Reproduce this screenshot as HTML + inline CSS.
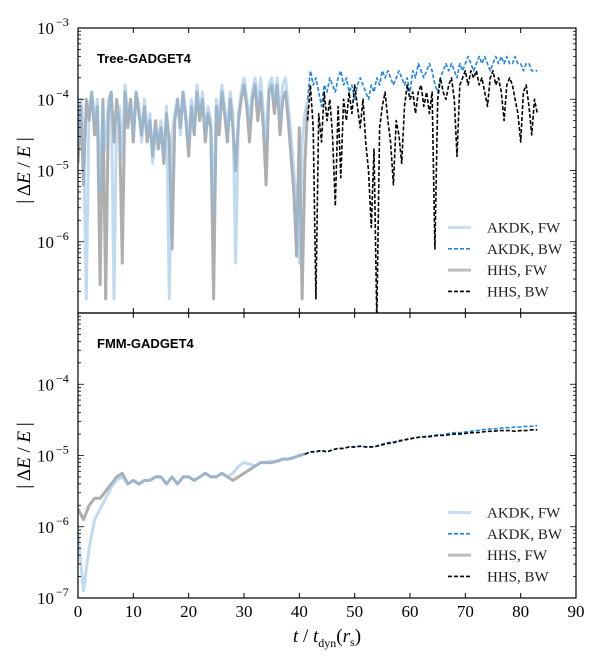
<!DOCTYPE html>
<html><head><meta charset="utf-8"><style>
html,body{margin:0;padding:0;background:#fff;}
svg{display:block;font-family:"Liberation Serif",serif;}
</style></head><body>
<svg id="chart" width="600" height="666" viewBox="0 0 600 666" xmlns="http://www.w3.org/2000/svg">
<g id="plots"></g>
</svg>
<script>
// ---- data (log10 of |dE/E|) ----
const topFwStart = 0, topBwStart = 41.5, topStep = 0.5;
const topHhsFw = [-4.9,-4.1,-5.2,-4.0,-4.3,-3.9,-4.5,-4.1,-6.6,-4.0,
 -6.8,-4.2,-3.9,-4.6,-4.0,-4.4,-6.3,-3.9,-4.4,-4.0,
 -4.6,-3.9,-4.2,-4.5,-4.1,-4.6,-4.3,-4.8,-4.3,-4.7,
 -4.4,-4.9,-4.2,-4.6,-6.1,-4.3,-4.0,-4.4,-3.9,-4.3,
 -4.8,-4.1,-4.5,-3.9,-4.3,-4.0,-4.6,-4.2,-4.4,-6.8,
 -4.1,-4.5,-3.9,-4.2,-4.6,-4.0,-4.4,-5.0,-4.3,-4.0,
 -3.8,-4.1,-4.6,-4.0,-3.8,-4.3,-3.9,-4.4,-5.2,-3.9,
 -3.8,-4.2,-3.8,-4.5,-4.0,-3.9,-4.3,-4.8,-5.3,-6.2,
 -4.4,-6.8,-4.9,-4.1];
const topAkdkFw = [-4.6,-4.0,-4.5,-6.8,-4.1,-3.9,-4.3,-4.0,-5.3,-4.1,
 -4.7,-4.0,-3.9,-6.8,-4.2,-4.1,-4.8,-3.8,-4.2,-4.1,
 -4.5,-3.9,-4.1,-4.6,-4.0,-4.5,-4.2,-4.9,-4.4,-4.6,
 -4.3,-4.8,-4.1,-6.8,-4.5,-4.2,-4.0,-4.5,-3.9,-4.2,
 -4.6,-4.0,-4.4,-3.8,-4.2,-3.9,-4.5,-4.1,-4.3,-5.6,
 -4.0,-4.3,-3.8,-4.1,-4.5,-3.9,-4.2,-6.3,-4.2,-3.9,
 -3.7,-4.0,-4.3,-3.9,-3.7,-4.1,-3.7,-4.2,-4.6,-3.8,
 -3.7,-4.0,-3.7,-4.3,-3.8,-3.7,-4.1,-4.5,-5.0,-5.5,
 -6.3,-4.6,-4.2,-4.0];
const topAkdkBw = [-4.0,-3.6,-3.8,-3.7,-3.9,-4.1,-3.8,-3.9,-3.7,-3.8,
 -3.9,-3.7,-3.6,-3.8,-3.7,-3.9,-3.8,-4.0,-3.8,-3.7,
 -3.8,-3.9,-4.0,-3.8,-3.9,-3.7,-3.8,-3.6,-3.7,-3.6,
 -3.7,-3.8,-3.7,-3.6,-3.7,-3.8,-3.7,-3.9,-3.6,-3.7,
 -3.5,-3.6,-3.7,-3.6,-3.5,-3.6,-3.8,-3.9,-3.7,-3.6,
 -3.5,-3.6,-3.5,-3.6,-3.7,-3.5,-3.6,-3.5,-3.4,-3.5,
 -3.6,-3.5,-3.4,-3.5,-3.4,-3.5,-3.6,-3.5,-3.4,-3.5,
 -3.4,-3.5,-3.4,-3.5,-3.5,-3.4,-3.5,-3.5,-3.6,-3.5,
 -3.5,-3.6,-3.6,-3.6];
const topHhsBw = [-4.3,-3.8,-4.4,-6.8,-4.2,-4.6,-3.9,-4.3,-4.0,-4.5,
 -5.5,-4.1,-5.1,-4.0,-4.3,-3.9,-4.2,-3.8,-4.1,-4.4,
 -4.0,-4.6,-5.0,-5.8,-4.7,-7.1,-4.4,-4.1,-3.9,-4.3,
 -4.6,-5.2,-4.3,-4.5,-4.9,-4.1,-3.8,-4.0,-3.9,-4.2,
 -3.9,-3.8,-4.1,-3.9,-4.2,-3.9,-6.1,-4.0,-3.7,-3.9,
 -4.0,-3.8,-3.7,-4.0,-4.8,-3.8,-3.7,-3.6,-3.8,-3.6,
 -3.7,-3.6,-3.8,-3.7,-3.9,-4.1,-3.7,-3.6,-3.8,-3.7,
 -3.9,-4.3,-3.8,-3.7,-3.8,-4.0,-4.2,-4.6,-3.9,-3.8,
 -4.1,-4.5,-4.0,-4.2];

const botFwStart = 0, botBwStart = 41, botStep = 1;
const botHhsFw = [-5.75,-5.9,-5.7,-5.6,-5.6,-5.5,-5.4,-5.3,-5.25,-5.4,
 -5.35,-5.4,-5.35,-5.35,-5.3,-5.3,-5.4,-5.3,-5.4,-5.3,
 -5.3,-5.35,-5.3,-5.25,-5.3,-5.3,-5.25,-5.3,-5.35,-5.3,
 -5.25,-5.2,-5.15,-5.1,-5.1,-5.1,-5.08,-5.05,-5.05,-5.03,-5.0,-4.98];
const botAkdkFw = [-6.1,-6.9,-6.3,-5.9,-5.75,-5.6,-5.45,-5.35,-5.3,-5.4,
 -5.35,-5.4,-5.35,-5.35,-5.3,-5.3,-5.4,-5.3,-5.4,-5.3,
 -5.3,-5.35,-5.3,-5.25,-5.3,-5.3,-5.25,-5.3,-5.25,-5.15,
 -5.1,-5.12,-5.15,-5.1,-5.1,-5.08,-5.08,-5.05,-5.05,-5.03,-5.0,-4.98];
const botHhsBw = [-4.98,-4.95,-4.95,-4.93,-4.95,-4.92,-4.9,-4.9,-4.88,-4.88,
 -4.87,-4.88,-4.88,-4.87,-4.85,-4.83,-4.82,-4.8,-4.78,-4.77,
 -4.75,-4.74,-4.74,-4.73,-4.72,-4.72,-4.71,-4.7,-4.7,-4.69,
 -4.68,-4.68,-4.67,-4.66,-4.66,-4.65,-4.65,-4.65,-4.66,-4.65,-4.65,-4.64,-4.64];
const botAkdkBw = [-4.98,-4.95,-4.94,-4.93,-4.95,-4.92,-4.9,-4.9,-4.88,-4.88,
 -4.87,-4.88,-4.88,-4.87,-4.84,-4.82,-4.81,-4.79,-4.78,-4.76,
 -4.75,-4.74,-4.73,-4.72,-4.71,-4.71,-4.69,-4.68,-4.68,-4.67,
 -4.66,-4.65,-4.64,-4.63,-4.63,-4.62,-4.61,-4.61,-4.6,-4.6,-4.59,-4.59,-4.58];

const xTicks = [0,10,20,30,40,50,60,70,80,90];
const topYTicks = [-3,-4,-5,-6];
const botYTicks = [-4,-5,-6,-7];
const legendLabels = ["AKDK, FW","AKDK, BW","HHS, FW","HHS, BW"];

// ---- geometry ----
const X0 = 78, X1 = 576;
const xs = t => X0 + (t / 90) * (X1 - X0);
const panels = [
  {top:28, bottom:313, name:"tree-panel", title:"Tree-GADGET4", yTicks:topYTicks},
  {top:313, bottom:598, name:"fmm-panel", title:"FMM-GADGET4", yTicks:botYTicks}
];
const ys = (p, lg) => p.bottom - (lg + 7) / 4 * (p.bottom - p.top);

const NS = "http://www.w3.org/2000/svg";
const root = document.getElementById('plots');
function mk(tag, attrs, parent) {
  const e = document.createElementNS(NS, tag);
  for (const k in attrs) e.setAttribute(k, attrs[k]);
  (parent || root).appendChild(e);
  return e;
}
const styles = {
  akdkFw: {stroke:"#8dbbe8", "stroke-width":3, opacity:0.55, fill:"none"},
  hhsFw: {stroke:"#9a9a9a", "stroke-width":3, opacity:0.8, fill:"none"},
  akdkBw: {stroke:"#1f84e0", "stroke-width":1.6, "stroke-dasharray":"4,2", fill:"none"},
  hhsBw: {stroke:"#000", "stroke-width":1.6, "stroke-dasharray":"4,2", fill:"none"}
};

panels.forEach((p, pi) => {
  const cid = "clip" + pi;
  const cp = mk('clipPath', {id: cid});
  mk('rect', {x:X0, y:p.top, width:X1-X0, height:p.bottom-p.top}, cp);
  const g = mk('g', {"clip-path":"url(#"+cid+")"});
  
  
  const add = (arr, start, step, st, name) => {
    const pts = arr.map((v, i) => xs(start + i * step).toFixed(1) + "," + ys(p, v).toFixed(1)).join(" ");
    const e = mk('polyline', Object.assign({points: pts, "stroke-linejoin":"round"}, st), g);
    
    
  };
  if (pi === 0) {
    add(topHhsFw, topFwStart, topStep, styles.hhsFw, 'hhs-fw-line');
    add(topAkdkFw, topFwStart, topStep, styles.akdkFw, 'akdk-fw-line');
    add(topAkdkBw, topBwStart, topStep, styles.akdkBw, 'akdk-bw-line');
    add(topHhsBw, topBwStart, topStep, styles.hhsBw, 'hhs-bw-line');
  } else {
    add(botHhsFw, botFwStart, botStep, styles.hhsFw, 'hhs-fw-line');
    add(botAkdkFw, botFwStart, botStep, styles.akdkFw, 'akdk-fw-line');
    add(botAkdkBw, botBwStart, botStep, styles.akdkBw, 'akdk-bw-line');
    add(botHhsBw, botBwStart, botStep, styles.hhsBw, 'hhs-bw-line');
  }
  const fr = mk('rect', {x:X0, y:p.top, width:X1-X0, height:p.bottom-p.top, fill:"none", stroke:"#000", "stroke-width":1.2});
  
  
  xTicks.forEach(t => {
    const x = xs(t);
    mk('line', {x1:x, x2:x, y1:p.bottom, y2:p.bottom-5, stroke:"#000", "stroke-width":1});
    mk('line', {x1:x, x2:x, y1:p.top, y2:p.top+5, stroke:"#000", "stroke-width":1});
  });
  for (let d = -7; d < -3; d++) {
    for (let m = 1; m < 10; m++) {
      const lg = d + Math.log10(m);
      const y = ys(p, lg);
      const len = m === 1 ? 6 : 3;
      mk('line', {x1:X0, x2:X0+len, y1:y, y2:y, stroke:"#000", "stroke-width":0.8});
      mk('line', {x1:X1, x2:X1-len, y1:y, y2:y, stroke:"#000", "stroke-width":0.8});
    }
  }
  p.yTicks.forEach(v => {
    const y = ys(p, v);
    const tx = mk('text', {x:54, y:y+6, "text-anchor":"end", "font-size":17, fill:"#000"});
    tx.textContent = "10";
    const sup = mk('text', {x:56, y:y-2, "text-anchor":"start", "font-size":12, fill:"#000"});
    sup.textContent = "\u2212" + (-v);
    
    
  });
  const ti = mk('text', {x:97, y:p.top+35, "font-family":"Liberation Sans, sans-serif", "font-weight":"bold", "font-size":13, fill:"#000"});
  ti.textContent = p.title;
  
  
  const yt = mk('text', {x:0, y:0, "text-anchor":"middle", "font-size":19, transform:"translate(30," + ((p.top+p.bottom)/2) + ") rotate(-90)"});
  yt.innerHTML = '| \u0394<tspan font-style="italic">E</tspan> / <tspan font-style="italic">E</tspan> |';
  
  
  const lg = mk('g', {});
  
  
  const sts = [styles.akdkFw, styles.akdkBw, styles.hhsFw, styles.hhsBw];
  legendLabels.forEach((lab, i) => {
    const y = p.bottom - 85.5 + i * 21.3;
    const st = Object.assign({}, sts[i]);
    if (i === 0) st.stroke = "#c6dff5";
    if (i === 2) st.stroke = "#bdbdbd";
    st.opacity = 1;
    mk('line', Object.assign({x1:448, x2:471, y1:y, y2:y}, st), lg);
    const tx = mk('text', {x:487, y:y+5, "font-size":15, fill:"#222"}, lg);
    tx.textContent = lab;
    
    
  });
});
xTicks.forEach(t => {
  const tx = mk('text', {x:xs(t), y:617, "text-anchor":"middle", "font-size":17, fill:"#000"});
  tx.textContent = String(t);
  
  
});
const xt = mk('text', {x:xs(45), y:642, "text-anchor":"middle", "font-size":19, fill:"#000"});
xt.innerHTML = '<tspan font-style="italic">t</tspan> / <tspan font-style="italic">t</tspan><tspan font-size="12" dy="5">dyn</tspan><tspan dy="-5">(</tspan><tspan font-style="italic">r</tspan><tspan font-size="12" dy="4">s</tspan><tspan dy="-4">)</tspan>';


</script>
</body></html>
